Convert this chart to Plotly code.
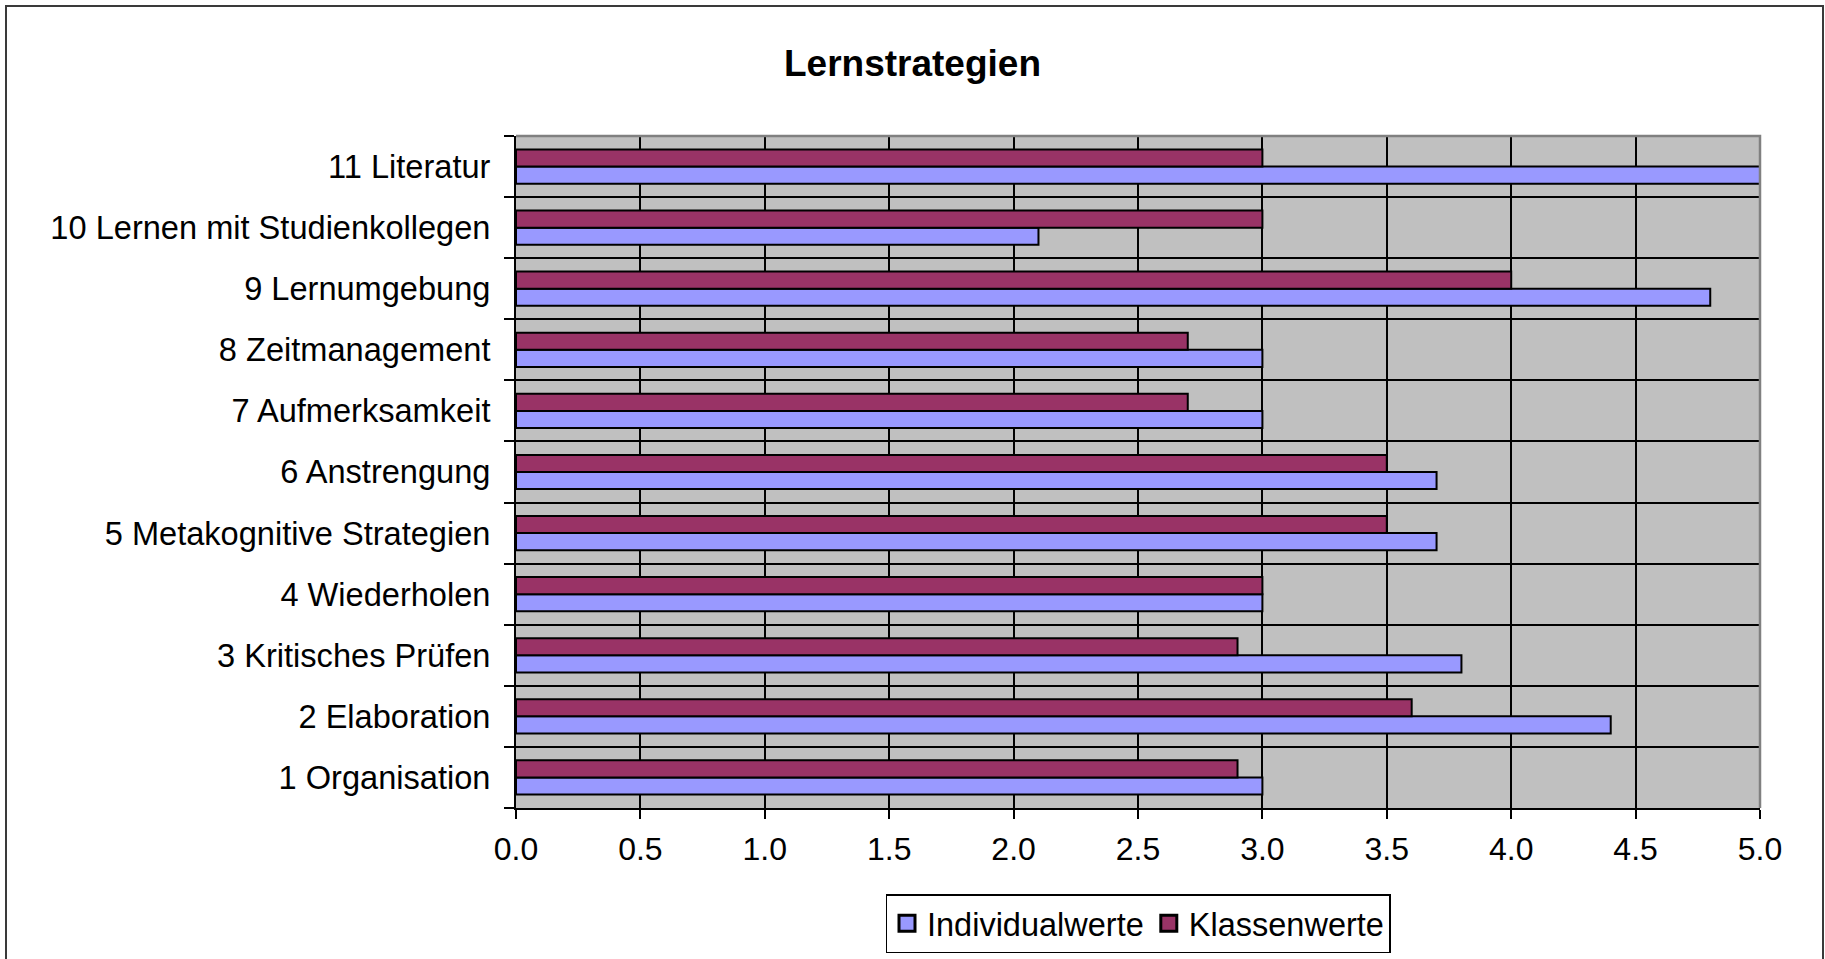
import plotly.graph_objects as go

categories = [
    "1 Organisation",
    "2 Elaboration",
    "3 Kritisches Prüfen",
    "4 Wiederholen",
    "5 Metakognitive Strategien",
    "6 Anstrengung",
    "7 Aufmerksamkeit",
    "8 Zeitmanagement",
    "9 Lernumgebung",
    "10 Lernen mit Studienkollegen",
    "11 Literatur",
]
individualwerte = [3.0, 4.4, 3.8, 3.0, 3.7, 3.7, 3.0, 3.0, 4.8, 2.1, 5.0]
klassenwerte = [2.9, 3.6, 2.9, 3.0, 3.5, 3.5, 2.7, 2.7, 4.0, 3.0, 3.0]
x_ticks = [0.0, 0.5, 1.0, 1.5, 2.0, 2.5, 3.0, 3.5, 4.0, 4.5, 5.0]
x_tick_labels = ["0.0", "0.5", "1.0", "1.5", "2.0", "2.5", "3.0", "3.5", "4.0", "4.5", "5.0"]

COL_IND = "#9999FF"
COL_KL = "#993366"
FONT = "Liberation Sans, Arial, sans-serif"

W, H = 1825, 959
L, R, T, B = 516, 65, 136, 151
PW, PH = W - L - R, H - T - B


def px_x(p):
    return (p - L) / PW


def px_y(p):
    return (H - B - p) / PH


fig = go.Figure()
fig.add_trace(go.Bar(
    y=categories, x=individualwerte, orientation="h", name="Individualwerte",
    marker=dict(color=COL_IND, line=dict(color="black", width=2)),
    showlegend=False,
))
fig.add_trace(go.Bar(
    y=categories, x=klassenwerte, orientation="h", name="Klassenwerte",
    marker=dict(color=COL_KL, line=dict(color="black", width=2)),
    showlegend=False,
))
# legend entries
for name, col in [("Individualwerte", COL_IND), ("Klassenwerte", COL_KL)]:
    fig.add_trace(go.Scatter(
        x=[None], y=[None], mode="markers", name=name,
        marker=dict(symbol="square", size=16, color=col, line=dict(color="black", width=3)),
        showlegend=True,
    ))

fig.update_layout(
    width=W, height=H,
    margin=dict(l=L, r=R, t=T, b=B, autoexpand=False),
    paper_bgcolor="white",
    plot_bgcolor="#C0C0C0",
    barmode="group",
    bargap=0.44,
    bargroupgap=0,
    font=dict(family=FONT, size=32, color="black"),
    title=dict(
        text="<b>Lernstrategien</b>", x=0.5, xref="container", xanchor="center",
        y=1 - 63 / H, yref="container", yanchor="middle",
        font=dict(family=FONT, size=37, color="black"),
    ),
    showlegend=True,
    legend=dict(
        orientation="h", x=0.5, xanchor="center", y=px_y(894), yanchor="top",
        bordercolor="black", borderwidth=1.5, bgcolor="white",
        font=dict(family=FONT, size=32.5, color="black"),
        itemwidth=30, tracegroupgap=0,
    ),
    xaxis=dict(
        range=[0, 5], tickvals=x_ticks, ticktext=x_tick_labels,
        tickfont=dict(size=32),
        showgrid=True, gridcolor="black", gridwidth=1.5,
        showline=True, linecolor="black", linewidth=2,
        ticks="outside", ticklen=9, tickwidth=1.5, tickcolor="black",
        ticklabelstandoff=3, zeroline=False, fixedrange=True,
    ),
    yaxis=dict(
        type="category", categoryorder="array", categoryarray=categories,
        tickfont=dict(size=32.6),
        tickson="boundaries", showgrid=True, gridcolor="black", gridwidth=1.5,
        showline=True, linecolor="black", linewidth=2,
        ticks="outside", ticklen=10, tickwidth=1.5, tickcolor="black",
        ticklabelstandoff=17, zeroline=False, fixedrange=True,
    ),
    shapes=[
        # gray top/right frame of the plot area
        dict(type="path", xref="paper", yref="paper", path="M 0,1 L 1,1 L 1,0",
             line=dict(color="#808080", width=2.5), layer="above"),
        # outer chart border
        dict(type="rect", xref="paper", yref="paper",
             x0=px_x(6), x1=px_x(1823), y0=px_y(975), y1=px_y(6),
             line=dict(color="#3a3a3a", width=2), layer="below"),
    ],
)

fig.write_html(
    "out.html",
    config={"displayModeBar": False},
    post_script="document.body.style.margin='0';document.body.style.overflow='hidden';",
)
